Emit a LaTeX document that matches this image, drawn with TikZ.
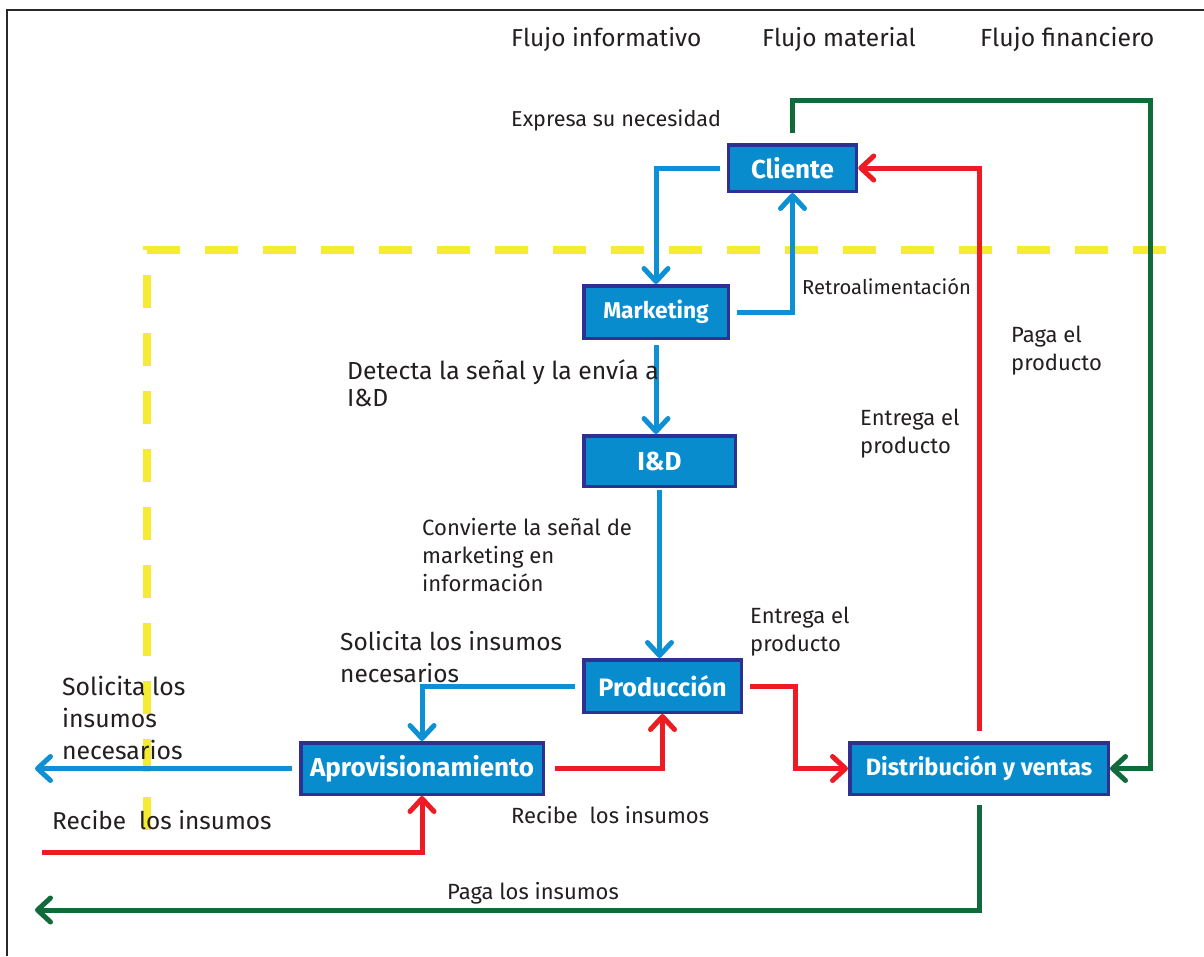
\documentclass[tikz,border=0pt]{standalone}
\usepackage{fontspec}
\setmainfont{Fira Sans}
\usetikzlibrary{arrows.meta}
\definecolor{boxfill}{RGB}{8,140,206}
\definecolor{boxline}{RGB}{46,49,146}
\definecolor{infoblue}{RGB}{14,145,212}
\definecolor{matred}{RGB}{237,28,36}
\definecolor{fingreen}{RGB}{16,106,58}
\definecolor{yel}{RGB}{245,235,50}
\definecolor{txt}{RGB}{35,31,32}
\definecolor{framec}{RGB}{40,40,40}
\newcommand\myfs[2]{\fontsize{#1}{#2}\selectfont}
\begin{document}
\begin{tikzpicture}[x=1pt,y=-1pt,
  box/.style={draw=boxline, line width=3.5pt, fill=boxfill, text=white,
    font=\bfseries\myfs{26}{30}, inner sep=0pt},
  conn/.style={line width=5pt, -{Straight Barb[length=13pt,width=24pt,round]}},
  info/.style={conn, draw=infoblue},
  mat/.style={conn, draw=matred},
  fin/.style={conn, draw=fingreen},
  lbl/.style={text=txt, inner sep=0pt, anchor=base west},
  lblm/.style={text=txt, inner sep=0pt, anchor=north west, align=left}
]
\useasboundingbox (0,0) rectangle (1204,956);
\fill[white] (0,0) rectangle (1204,956);
% frame
\draw[framec, line width=2pt] (1204,10) -- (7,10) -- (7,956);
% yellow boundary
\draw[yel, line width=8pt, dash pattern=on 33pt off 25pt] (1166,250) -- (147,250) -- (147,832);

% boxes
\node[box, minimum width=128pt, minimum height=46.5pt] (cli) at (792.5,168) {Cliente};
\node[box, minimum width=144.5pt, minimum height=52.5pt, font=\bfseries\myfs{22.8}{30}] (mkt) at (656,312) {Marketing};
\node[box, minimum width=151.5pt, minimum height=50.5pt] (ind) at (659.5,461) {I\&D};
\node[box, minimum width=157.5pt, minimum height=52.5pt, font=\bfseries\myfs{25.2}{30}] (prd) at (662.5,686) {Producción};
\node[box, minimum width=242.5pt, minimum height=51.5pt] (apr) at (422,768.5) {Aprovisionamiento};
\node[box, minimum width=258.5pt, minimum height=51.5pt, font=\bfseries\myfs{23.6}{30}] (dst) at (979,768.5) {Distribución y ventas};

% free ends
\coordinate (aL) at (35,768.5);
\coordinate (rL) at (42,852);
\coordinate (gT) at (1150,100);
\coordinate (gB) at (35,910);

% informative flow
\draw[info, shorten <=7pt] (cli.west) -| (mkt.north);
\draw[info, shorten <=7pt] (mkt.east) -| (cli.south);
\draw[info, shorten <=5pt] (mkt.south) -- (mkt.south |- ind.north);
\draw[info, shorten <=2pt] (ind.south) -- (ind.south |- prd.north);
\draw[info, shorten <=7pt] (prd.west) -| (apr.north);
\draw[info, shorten <=7pt] (apr.west) -- (aL);
% material flow
\draw[mat] (rL) -| (apr.south);
\draw[mat, shorten <=10pt] (apr.east) -| (prd.south);
\draw[mat, shorten <=7pt] (prd.east) -- ++(52,0) |- (dst.west);
\draw[mat, shorten <=10pt] (dst.north) |- (cli.east);
% financial flow
\draw[fin, shorten <=10pt] (cli.north) |- (gT) |- (dst.east);
\draw[fin, shorten <=9pt] (dst.south) |- (gB);

% labels
\node[lbl, font=\myfs{24.5}{27}] (h1) at (511,46) {Flujo informativo};
\node[lbl, font=\myfs{24.5}{27}] (h2) at (762,46) {Flujo material};
\node[lbl, font=\myfs{24.8}{27}] (h3) at (980,46) {Flujo financiero};
\node[lbl, font=\myfs{21.6}{27}] (t1) at (511,126) {Expresa su necesidad};
\node[lbl, font=\myfs{20.2}{27}] (t2) at (802,294) {Retroalimentación};
\node[lblm, font=\myfs{24.7}{27}] (t3) at (347,359.1) {\strut Detecta la señal y la envía a\\I\&D};
\node[lblm, font=\myfs{22.1}{28}] (t4) at (422,515.4) {\strut Convierte la señal de\\marketing en\\información};
\node[lblm, font=\myfs{24.5}{32}] (t5) at (340,627.6) {\strut Solicita los insumos\\necesarios};
\node[lblm, font=\myfs{24.8}{32}] (t6) at (62,672.6) {\strut Solicita los\\insumos\\necesarios};
\node[lbl, font=\myfs{24.4}{32}] (t7) at (52,829) {Recibe\ \ los insumos};
\node[lbl, font=\myfs{22}{28}] (t8) at (511,823) {Recibe\ \ los insumos};
\node[lbl, font=\myfs{22}{28}] (t9) at (447,899) {Paga los insumos};
\node[lblm, font=\myfs{22}{28}] (t10) at (750,603.4) {\strut Entrega el\\producto};
\node[lblm, font=\myfs{22}{28}] (t11) at (860,405.4) {\strut Entrega el\\producto};
\node[lblm, font=\myfs{22}{28}] (t12) at (1011,322.4) {\strut Paga el\\producto};
\end{tikzpicture}
\end{document}
